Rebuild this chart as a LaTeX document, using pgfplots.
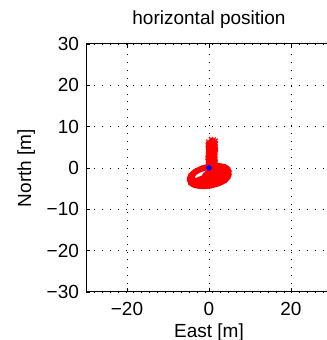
\documentclass[border=0pt]{standalone}
\usepackage{pgfplots}
\pgfplotsset{compat=1.18}
\usepackage{fontspec}
\setmainfont{Liberation Sans}

\pgfplotsset{
  track/.style={red, line width=2.8pt, smooth, mark=x, mark size=1.5pt,
                mark options={line width=0.6pt, solid}},
  run/.style={red, line width=1.9pt, mark=x, mark size=1.4pt,
              mark options={line width=0.6pt}},
}

\begin{document}
\begin{tikzpicture}
% visible page: the axis box is cut on the right
\path[use as bounding box] (-43pt,-24pt) rectangle (120pt,146pt);
\begin{axis}[
  scale only axis,
  width=123pt, height=124pt,
  xmin=-30, xmax=30, ymin=-30, ymax=30,
  xtick={-20,0,20}, xticklabels={−20,0,20},
  ytick={-30,-20,...,30}, yticklabels={−30,−20,−10,0,10,20,30},
  tick align=inside, major tick length=2pt,
  tick style={black, line width=0.4pt},
  grid=major,
  major grid style={black, line width=0.45pt, dash pattern=on 0.45pt off 3.5pt},
  axis line style={black, line width=0.5pt},
  font=\fontsize{9.5}{11}\selectfont,
  xticklabel style={yshift=-1.5pt},
  title={horizontal position},
  title style={yshift=-2pt},
  xlabel={East [m]}, ylabel={North [m]},
  xlabel style={yshift=3pt},
  ylabel style={yshift=-1pt},
  clip=false,
]
% outer loop of the track
\addplot[track] coordinates {
 (4.9,-1.2) (4.62,-0.38) (3.74,0.19) (2.12,0.43) (0.2,0.3) (-1.72,-0.18)
 (-3.34,-0.94) (-4.42,-1.86) (-4.7,-2.8) (-4.42,-3.62) (-3.34,-4.19) (-1.72,-4.43)
 (0.2,-4.3) (2.12,-3.82) (3.74,-3.06) (4.62,-2.14) (4.9,-1.2)
};
% second loop
\addplot[track] coordinates {
 (4.6,-0.8) (4.36,-0.13) (3.48,0.34) (2.02,0.52) (0.3,0.4) (-1.42,-0.01)
 (-2.88,-0.65) (-3.86,-1.42) (-4.2,-2.2) (-3.86,-2.88) (-2.88,-3.34) (-1.42,-3.52)
 (0.3,-3.4) (2.02,-2.99) (3.48,-2.35) (4.36,-1.58) (4.6,-0.8)
};
% lower loop
\addplot[track] coordinates {
 (3.8,-2.4) (3.53,-2.06) (2.77,-1.87) (1.64,-1.85) (0.3,-2.0) (-1.04,-2.31)
 (-2.17,-2.72) (-2.93,-3.17) (-3.2,-3.6) (-2.93,-3.94) (-2.17,-4.13) (-1.04,-4.15)
 (0.3,-4.0) (1.64,-3.69) (2.77,-3.28) (3.53,-2.83) (3.8,-2.4)
};
% small loop on the east side
\addplot[track] coordinates {
 (4.0,-1.0) (3.81,-0.73) (3.27,-0.58) (2.46,-0.57) (1.5,-0.7) (0.54,-0.95)
 (-0.27,-1.29) (-0.81,-1.66) (-1.0,-2.0) (-0.81,-2.27) (-0.27,-2.42) (0.54,-2.43)
 (1.5,-2.3) (2.46,-2.05) (3.27,-1.71) (3.81,-1.34) (4.0,-1.0)
};
% northward run
\addplot[run] coordinates {
 (-0.3,-0.5) (-0.25,1) (-0.35,2.5) (-0.25,4) (-0.3,5.5) (-0.2,6.4)
};
\addplot[run] coordinates {
 (0.4,-0.3) (0.5,1.5) (0.4,3) (0.55,4.5) (0.45,6) (0.5,7.0)
};
\addplot[run] coordinates {
 (1.0,-0.5) (1.1,1) (1.0,2.5) (1.15,4) (1.05,5.5) (1.2,6.9)
};
\addplot[run] coordinates {
 (1.5,0) (1.65,1.5) (1.55,3) (1.7,4.5) (1.6,5.9) (1.65,6.6)
};
% start point
\addplot[only marks, blue, mark=*, mark size=1.2pt] coordinates {(0,0)};
\end{axis}
\end{tikzpicture}
\end{document}
